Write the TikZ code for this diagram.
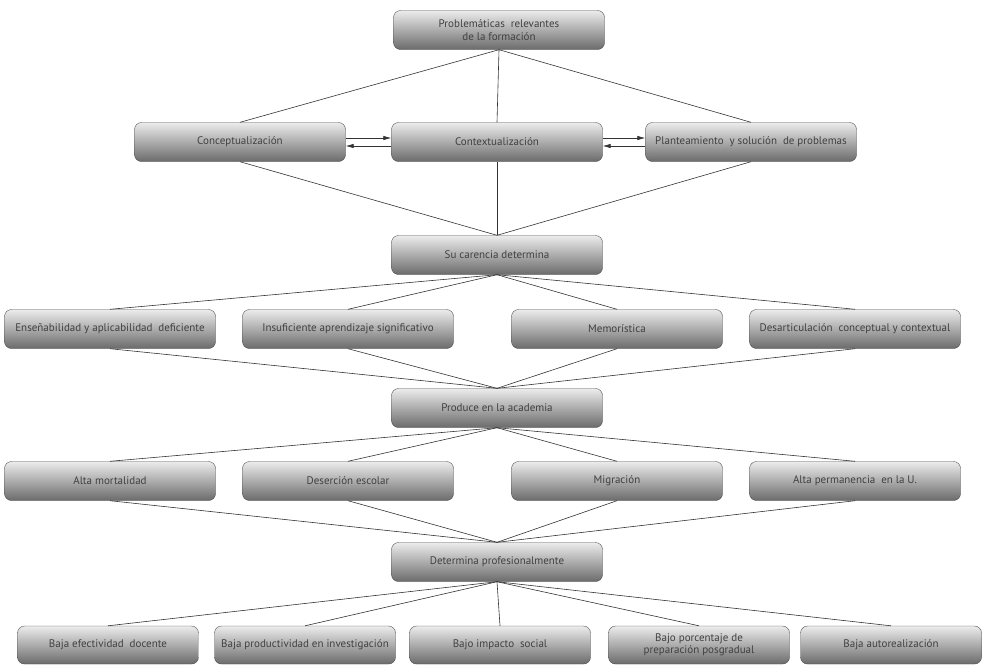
\documentclass[tikz,border=0pt]{standalone}
\usepackage{fontspec}
\setmainfont{PT Sans}
\usetikzlibrary{arrows.meta}
\tikzset{
  box/.style={draw=black!70, rounded corners=7pt, top color=gray!15, bottom color=black!58,
    minimum width=211pt, minimum height=39pt, inner sep=2pt, align=center,
    text=black!75, font=\fontsize{11}{12.5}\selectfont},
  smallbox/.style={box, minimum width=181pt, minimum height=38pt},
  link/.style={draw=black!80, line width=0.6pt},
  flow/.style={link, -{Latex[length=8pt,width=4.5pt]}}
}
\begin{document}
\begin{tikzpicture}[x=1pt,y=-1pt]
\useasboundingbox (0,0) rectangle (982,665);
\node[box] (prob) at (499,30) {Problemáticas\ \ relevantes\\de la formación};
\node[box] (concep) at (240,142) {Conceptualización};
\node[box] (contex) at (497,142) {Contextualización};
\node[box] (plant) at (751,142) {Planteamiento\ \ y solución\ \ de problemas};
\node[box] (carencia) at (497,255) {Su carencia determina};
\node[box] (ens) at (110,329) {Enseñabilidad y aplicabilidad\ \ deficiente};
\node[box] (insuf) at (348,329) {Insuficiente aprendizaje significativo};
\node[box] (memo) at (617,329) {Memorística};
\node[box] (desart) at (855,329) {Desarticulación\ \ conceptual y contextual};
\node[box] (produce) at (497,408) {Produce en la academia};
\node[box] (mort) at (110,481) {Alta mortalidad};
\node[box] (deser) at (348,481) {Deserción escolar};
\node[box] (migr) at (617,481) {Migración};
\node[box] (perm) at (855,481) {Alta permanencia\ \ en la U.};
\node[box] (determ) at (497,562) {Determina profesionalmente};
\node[smallbox] (efect) at (108,645) {Baja efectividad\ \ docente};
\node[smallbox] (produc) at (305,645) {Baja productividad en investigación};
\node[smallbox] (impac) at (500,645) {Bajo impacto\ \ social};
\node[smallbox] (porc) at (699,645) {Bajo porcentaje de\\preparación posgradual};
\node[smallbox] (autor) at (891,645) {Baja autorealización};
% links
\foreach \n in {concep,contex,plant} {
  \draw[link] (prob.south) -- (\n.north);
  \draw[link] (\n.south) -- (carencia.north);
}
\foreach \n in {ens,insuf,memo,desart} {
  \draw[link] (carencia.south) -- (\n.north);
  \draw[link] (\n.south) -- (produce.north);
}
\foreach \n in {mort,deser,migr,perm} {
  \draw[link] (produce.south) -- (\n.north);
  \draw[link] (\n.south) -- (determ.north);
}
\foreach \n in {efect,produc,impac,porc,autor}
  \draw[link] (determ.south) -- (\n.north);
% arrows
\draw[flow] ([yshift=4pt]concep.east) -- ([yshift=4pt]contex.west);
\draw[flow] ([yshift=-4pt]contex.west) -- ([yshift=-4pt]concep.east);
\draw[flow] ([yshift=4pt]contex.east) -- ([yshift=4pt]plant.west);
\draw[flow] ([yshift=-4pt]plant.west) -- ([yshift=-4pt]contex.east);
\end{tikzpicture}
\end{document}
